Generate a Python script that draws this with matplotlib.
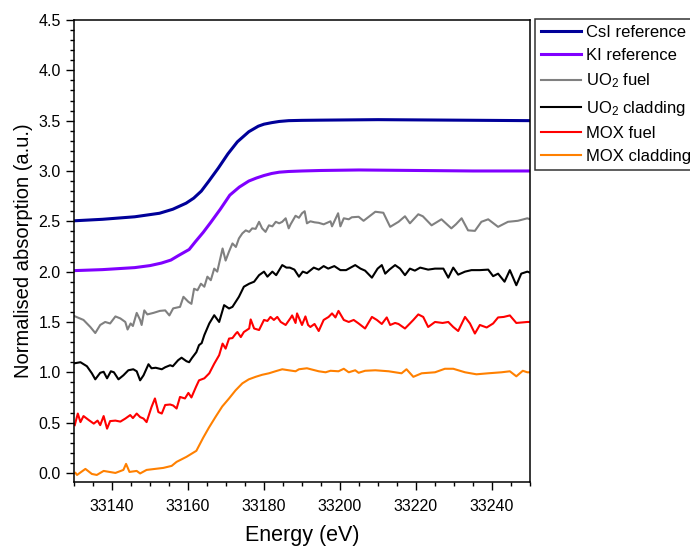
import matplotlib
matplotlib.use("Agg")
import matplotlib.pyplot as plt
from matplotlib.ticker import MultipleLocator

plt.rcParams['font.family'] = ['Liberation Sans', 'DejaVu Sans']
plt.rcParams['mathtext.default'] = 'regular'

# CsI reference (smooth)
e_csi = [33130, 33137.5, 33146, 33152.5, 33156, 33159.5, 33161.5, 33163.5, 33165.5,
         33168, 33170.5, 33173, 33176, 33178.5, 33180, 33182, 33184, 33186.5, 33190,
         33195, 33210, 33230, 33250]
csi = [2.505, 2.52, 2.545, 2.58, 2.62, 2.68, 2.73, 2.80, 2.90,
       3.03, 3.17, 3.29, 3.39, 3.445, 3.465, 3.48, 3.492, 3.50, 3.503,
       3.505, 3.51, 3.505, 3.50]

# KI reference (smooth)
e_ki = [33130, 33137.5, 33146, 33150, 33153, 33155.5, 33157.5, 33160.3, 33162, 33164,
        33166, 33168.5, 33171, 33173.5, 33176, 33178, 33180, 33182, 33184, 33186.5,
        33190, 33195, 33205, 33220, 33235, 33250]
ki = [2.01, 2.02, 2.04, 2.06, 2.085, 2.115, 2.16, 2.22, 2.30, 2.39,
      2.49, 2.62, 2.76, 2.84, 2.90, 2.93, 2.955, 2.975, 2.988, 2.995,
      3.0, 3.005, 3.01, 3.005, 3.0, 3.0]

# UO2 fuel
e_uo2f = [33130.0, 33132.5, 33134.3, 33135.6, 33136.9, 33138.2, 33139.5, 33140.9, 33142.2,
          33143.5, 33144.1, 33144.9, 33145.5, 33146.5, 33147.4, 33147.8, 33148.5, 33149.3,
          33150.9, 33152.6, 33154.0, 33155.1, 33156.1, 33157.9, 33158.8, 33160.1, 33160.9,
          33161.6, 33162.5, 33163.4, 33164.3, 33165.1, 33166.0, 33166.9, 33167.7, 33169.1,
          33169.9, 33170.8, 33171.7, 33172.6, 33173.4, 33174.3, 33175.2, 33176.1, 33176.9,
          33177.8, 33178.7, 33179.5, 33180.4, 33181.3, 33182.2, 33183.1, 33184.0, 33184.8,
          33185.7, 33186.5, 33187.0, 33188.3, 33189.2, 33190.0, 33190.7, 33191.3, 33192.2,
          33193.3, 33194.4, 33195.7, 33197.5, 33197.9, 33199.5, 33200.1, 33201.0, 33202.3,
          33203.1, 33204.9, 33206.2, 33209.3, 33211.4, 33213.2, 33215.4, 33217.1, 33218.4,
          33220.6, 33221.8, 33224.1, 33226.7, 33229.3, 33230.5, 33232.0, 33233.7, 33235.5,
          33237.2, 33239.0, 33241.6, 33244.2, 33246.8, 33249.3, 33250.0]
uo2f = [1.56, 1.52, 1.45, 1.39, 1.47, 1.50, 1.485, 1.555, 1.535,
        1.50, 1.425, 1.485, 1.46, 1.59, 1.52, 1.47, 1.615, 1.575,
        1.59, 1.61, 1.615, 1.565, 1.635, 1.65, 1.75, 1.70, 1.68,
        1.83, 1.815, 1.88, 1.85, 1.95, 1.915, 2.03, 2.00, 2.23,
        2.11, 2.20, 2.28, 2.245, 2.33, 2.38, 2.41, 2.395, 2.43,
        2.425, 2.495, 2.43, 2.395, 2.46, 2.45, 2.495, 2.48, 2.495,
        2.53, 2.43, 2.47, 2.555, 2.535, 2.58, 2.60, 2.48, 2.50,
        2.49, 2.485, 2.47, 2.50, 2.45, 2.58, 2.45, 2.53, 2.52,
        2.54, 2.545, 2.505, 2.595, 2.585, 2.445, 2.495, 2.55, 2.48,
        2.57, 2.55, 2.46, 2.52, 2.43, 2.47, 2.53, 2.41, 2.405,
        2.495, 2.52, 2.445, 2.495, 2.505, 2.53, 2.52]

# UO2 cladding
e_uo2c = [33130.2, 33131.7, 33133.4, 33134.7, 33135.6, 33136.9, 33137.8, 33138.7, 33139.7,
          33140.5, 33141.7, 33143.0, 33144.3, 33145.6, 33146.5, 33147.4, 33148.3, 33149.6,
          33150.4, 33151.5, 33153.1, 33154.0, 33155.3, 33156.0, 33157.4, 33158.3, 33159.6,
          33160.3, 33161.0, 33161.6, 33162.2, 33162.9, 33163.6, 33164.3, 33165.6, 33166.9,
          33168.2, 33169.5, 33170.8, 33171.7, 33173.4, 33174.7, 33176.1, 33177.4, 33178.7,
          33180.0, 33180.9, 33182.2, 33183.2, 33184.8, 33185.9, 33186.8, 33188.0, 33189.2,
          33190.2, 33191.3, 33193.1, 33194.4, 33195.7, 33196.9, 33198.5, 33200.1, 33201.6,
          33204.0, 33205.4, 33206.6, 33208.4, 33209.9, 33211.0, 33211.9, 33213.0, 33214.5,
          33215.8, 33217.1, 33218.4, 33219.7, 33221.1, 33223.2, 33225.0, 33227.2, 33228.5,
          33229.8, 33231.1, 33232.9, 33234.6, 33236.8, 33239.0, 33240.3, 33241.6, 33243.3,
          33244.7, 33246.4, 33247.7, 33249.3, 33250.0]
uo2c = [1.09, 1.10, 1.06, 0.99, 0.93, 0.995, 1.005, 0.94, 1.01,
        1.0, 0.93, 0.97, 1.02, 1.03, 1.01, 0.92, 0.97, 1.08,
        1.04, 1.045, 1.03, 1.05, 1.07, 1.06, 1.12, 1.145, 1.11,
        1.10, 1.14, 1.17, 1.20, 1.27, 1.29, 1.37, 1.485, 1.567,
        1.50, 1.667, 1.634, 1.65, 1.75, 1.85, 1.88, 1.90, 1.965,
        2.00, 1.95, 2.00, 1.965, 2.065, 2.04, 2.04, 2.02, 1.95,
        2.00, 1.985, 2.04, 2.02, 2.055, 2.03, 2.055, 2.015, 2.015,
        2.065, 2.03, 2.01, 1.94, 2.03, 2.065, 1.98, 2.02, 2.065,
        2.03, 1.965, 2.03, 2.01, 2.04, 2.02, 2.03, 2.03, 1.94,
        2.04, 1.97, 2.00, 2.015, 2.015, 2.02, 1.955, 1.98, 1.90,
        2.015, 1.865, 1.98, 2.00, 1.99]

# MOX fuel
e_moxf = [33130.2, 33131.0, 33131.7, 33132.5, 33133.9, 33135.2, 33136.2, 33136.9, 33137.8,
          33138.7, 33139.5, 33140.9, 33142.2, 33143.5, 33144.8, 33145.5, 33146.5, 33147.4,
          33148.3, 33149.1, 33150.4, 33151.3, 33152.2, 33153.1, 33154.0, 33155.3, 33156.1,
          33157.0, 33157.9, 33159.2, 33160.1, 33160.9, 33162.1, 33162.9, 33164.3, 33165.6,
          33166.9, 33168.2, 33169.1, 33169.9, 33170.8, 33171.7, 33172.6, 33173.0, 33173.9,
          33174.7, 33176.1, 33176.5, 33177.4, 33178.7, 33180.0, 33180.9, 33181.7, 33182.6,
          33183.5, 33184.4, 33185.7, 33187.0, 33187.4, 33188.3, 33188.7, 33190.0, 33190.9,
          33191.6, 33192.2, 33193.3, 33194.4, 33195.7, 33197.0, 33197.9, 33198.8, 33199.6,
          33201.0, 33202.3, 33203.6, 33204.9, 33206.6, 33208.4, 33209.7, 33211.0, 33212.3,
          33213.2, 33214.5, 33215.4, 33217.1, 33218.4, 33219.3, 33220.6, 33221.9, 33223.2,
          33225.0, 33227.0, 33228.5, 33229.8, 33231.1, 33232.9, 33234.2, 33235.5, 33236.8,
          33238.6, 33240.3, 33241.6, 33243.1, 33244.7, 33246.4, 33249.3, 33250.0]
moxf = [0.475, 0.59, 0.505, 0.565, 0.525, 0.49, 0.52, 0.475, 0.565,
        0.44, 0.515, 0.52, 0.51, 0.54, 0.575, 0.545, 0.59, 0.555,
        0.54, 0.505, 0.655, 0.74, 0.605, 0.59, 0.675, 0.68, 0.67,
        0.64, 0.755, 0.74, 0.795, 0.75, 0.855, 0.92, 0.94, 0.99,
        1.085, 1.17, 1.285, 1.235, 1.335, 1.34, 1.385, 1.40, 1.35,
        1.40, 1.435, 1.525, 1.435, 1.42, 1.52, 1.51, 1.55, 1.52,
        1.55, 1.50, 1.47, 1.54, 1.565, 1.49, 1.585, 1.47, 1.555,
        1.47, 1.45, 1.48, 1.41, 1.52, 1.55, 1.585, 1.545, 1.61,
        1.52, 1.50, 1.52, 1.485, 1.435, 1.55, 1.52, 1.48, 1.545,
        1.47, 1.49, 1.48, 1.435, 1.485, 1.52, 1.575, 1.55, 1.45,
        1.50, 1.49, 1.50, 1.45, 1.41, 1.55, 1.485, 1.385, 1.47,
        1.445, 1.485, 1.545, 1.55, 1.565, 1.49, 1.50, 1.50]

# MOX cladding
e_moxc = [33130.4, 33130.8, 33133.0, 33134.7, 33136.0, 33137.8, 33140.9, 33143.0, 33143.7,
          33144.6, 33146.5, 33147.4, 33149.1, 33151.3, 33153.5, 33155.7, 33157.0, 33159.6,
          33162.2, 33164.0, 33165.5, 33167.3, 33169.0, 33170.8, 33172.5, 33174.3, 33176.0,
          33177.8, 33179.5, 33181.3, 33183.0, 33184.8, 33186.5, 33188.3, 33189.2, 33191.3,
          33194.4, 33196.2, 33197.5, 33199.6, 33201.0, 33202.3, 33204.0, 33204.9, 33206.6,
          33209.3, 33212.8, 33216.2, 33217.5, 33219.3, 33221.5, 33225.0, 33227.6, 33229.8,
          33232.9, 33235.9, 33239.0, 33242.5, 33244.7, 33246.4, 33248.1, 33249.3, 33250.0]
moxc = [0.00, -0.02, 0.04, -0.01, -0.02, 0.02, 0.00, 0.03, 0.09,
        0.01, 0.02, -0.005, 0.03, 0.04, 0.05, 0.07, 0.11, 0.16,
        0.22, 0.35, 0.45, 0.56, 0.66, 0.74, 0.82, 0.89, 0.93,
        0.955, 0.975, 0.99, 1.01, 1.03, 1.02, 1.01, 1.03, 1.04,
        1.01, 1.00, 1.015, 1.01, 1.035, 1.00, 1.02, 0.995, 1.015,
        1.02, 1.01, 0.99, 1.03, 0.955, 0.99, 1.00, 1.035, 1.035,
        1.00, 0.98, 0.99, 1.00, 1.01, 0.96, 1.015, 1.00, 1.00]

fig = plt.figure(figsize=(6.9, 5.46), dpi=100)
ax = fig.add_axes([74 / 690, 64 / 546, 456 / 690, 462 / 546])

ax.plot(e_csi, csi, color='#000099', lw=2.2, label='CsI reference')
ax.plot(e_ki, ki, color='#8000ff', lw=2.2, label='KI reference')
ax.plot(e_uo2f, uo2f, color='#808080', lw=1.5, label='UO$_2$ fuel')
ax.plot(e_uo2c, uo2c, color='black', lw=1.5, label='UO$_2$ cladding')
ax.plot(e_moxf, moxf, color='#ff0000', lw=1.5, label='MOX fuel')
ax.plot(e_moxc, moxc, color='#ff8000', lw=1.5, label='MOX cladding')

ax.set_xlim(33130, 33250)
ax.set_ylim(-0.09, 4.5)
ax.xaxis.set_major_locator(MultipleLocator(20))
ax.xaxis.set_minor_locator(MultipleLocator(5))
ax.yaxis.set_major_locator(MultipleLocator(0.5))
ax.yaxis.set_minor_locator(MultipleLocator(0.1))
ax.yaxis.set_major_formatter(plt.FormatStrFormatter('%.1f'))
ax.tick_params(which='major', direction='out', length=6, width=1, labelsize=11.5)
ax.tick_params(which='minor', direction='out', length=3, width=1)
ax.tick_params(axis='x', which='major', pad=6)
for s in ax.spines.values():
    s.set_linewidth(1.1)

ax.set_xlabel('Energy (eV)', fontsize=15.5, labelpad=8)
ax.set_ylabel('Normalised absorption (a.u.)', fontsize=14.5)

leg = fig.legend(loc='upper left', bbox_to_anchor=(535 / 690, 1 - 19 / 546),
                 fontsize=12, frameon=True, fancybox=False, edgecolor='black',
                 handlelength=2.4, handletextpad=0.3, labelspacing=0.5,
                 borderaxespad=0, borderpad=0.35)
leg.get_frame().set_linewidth(1.1)

fig.savefig('out.png', dpi=100)
